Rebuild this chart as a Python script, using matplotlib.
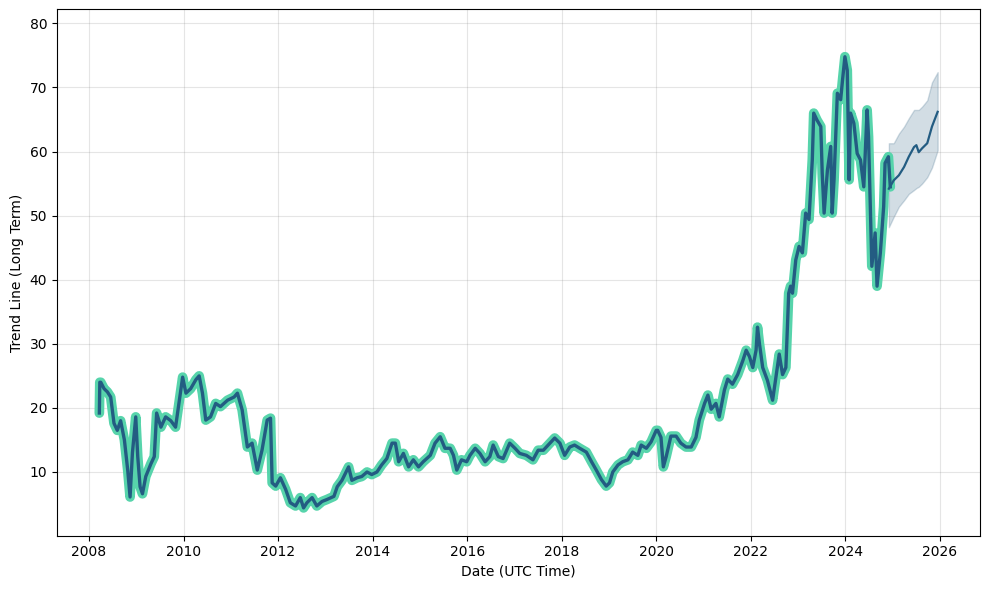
import datetime
import matplotlib
matplotlib.use("Agg")
from matplotlib import pyplot as plt

hist_years = [
    2008.22, 2008.23, 2008.25, 2008.32, 2008.39, 2008.46, 2008.53, 2008.60, 2008.67, 2008.75,
    2008.82, 2008.87, 2008.92, 2008.99, 2009.03, 2009.08, 2009.13, 2009.20, 2009.31, 2009.38,
    2009.43, 2009.52, 2009.62, 2009.73, 2009.83, 2009.91, 2009.98, 2010.05, 2010.15, 2010.26,
    2010.33, 2010.40, 2010.47, 2010.57, 2010.68, 2010.78, 2010.93, 2011.07, 2011.14, 2011.24,
    2011.35, 2011.45, 2011.56, 2011.66, 2011.77, 2011.84, 2011.875, 2011.95, 2012.05, 2012.16,
    2012.26, 2012.37, 2012.47, 2012.54, 2012.61, 2012.72, 2012.82, 2012.93, 2013.03, 2013.18,
    2013.25, 2013.35, 2013.49, 2013.56, 2013.67, 2013.77, 2013.88, 2013.98, 2014.09, 2014.19,
    2014.30, 2014.41, 2014.48, 2014.55, 2014.65, 2014.76, 2014.86, 2014.97, 2015.07, 2015.22,
    2015.32, 2015.43, 2015.53, 2015.64, 2015.71, 2015.78, 2015.88, 2015.99, 2016.06, 2016.17,
    2016.27, 2016.38, 2016.48, 2016.55, 2016.66, 2016.76, 2016.90, 2017.01, 2017.11, 2017.25,
    2017.39, 2017.50, 2017.61, 2017.71, 2017.85, 2017.96, 2018.06, 2018.17, 2018.27, 2018.38,
    2018.52, 2018.63, 2018.73, 2018.84, 2018.94, 2019.01, 2019.08, 2019.19, 2019.29, 2019.40,
    2019.50, 2019.61, 2019.68, 2019.79, 2019.89, 2020.00, 2020.03, 2020.10, 2020.15, 2020.21,
    2020.31, 2020.42, 2020.52, 2020.63, 2020.74, 2020.84, 2020.91, 2021.02, 2021.09, 2021.16,
    2021.26, 2021.33, 2021.44, 2021.51, 2021.61, 2021.72, 2021.83, 2021.90, 2021.97, 2022.04,
    2022.11, 2022.14, 2022.18, 2022.25, 2022.35, 2022.46, 2022.53, 2022.60, 2022.67, 2022.74,
    2022.80, 2022.84, 2022.88, 2022.95, 2023.02, 2023.09, 2023.16, 2023.23, 2023.30, 2023.33,
    2023.40, 2023.48, 2023.51, 2023.55, 2023.62, 2023.69, 2023.72, 2023.76, 2023.83, 2023.90,
    2023.94, 2023.99, 2024.04, 2024.08, 2024.11, 2024.18, 2024.25, 2024.32, 2024.39, 2024.46,
    2024.49, 2024.53, 2024.56, 2024.63, 2024.67, 2024.74, 2024.81, 2024.84, 2024.91, 2024.95,
]
hist_values = [
    19.2, 24.0, 24.0, 23.0, 22.5, 21.7, 17.6, 16.5, 18.0, 15.0,
    10.3, 6.1, 13.0, 18.6, 12.4, 7.7, 6.6, 9.3, 11.3, 12.4,
    19.2, 17.0, 18.6, 18.0, 17.0, 21.2, 24.8, 22.3, 23.0, 24.4,
    25.0, 22.3, 18.1, 18.6, 20.7, 20.2, 21.2, 21.7, 22.3, 19.7,
    13.9, 14.5, 10.3, 13.4, 18.1, 18.4, 8.3, 7.8, 9.1, 7.3,
    5.2, 4.7, 6.0, 4.4, 5.2, 6.0, 4.7, 5.4, 5.7, 6.2,
    7.7, 8.7, 10.8, 8.7, 9.1, 9.3, 10.0, 9.6, 10.0, 11.1,
    12.1, 14.5, 14.5, 11.6, 12.9, 10.8, 11.9, 10.8, 11.6, 12.6,
    14.5, 15.5, 13.7, 13.7, 12.6, 10.3, 11.9, 11.6, 12.6, 13.7,
    12.9, 11.6, 12.4, 14.2, 12.4, 12.1, 14.5, 13.7, 12.9, 12.6,
    11.9, 13.4, 13.4, 14.2, 15.3, 14.5, 12.6, 13.9, 14.2, 13.7,
    13.1, 11.6, 10.3, 8.8, 7.8, 8.3, 10.0, 11.1, 11.6, 11.9,
    13.1, 12.6, 14.2, 13.7, 14.7, 16.5, 16.5, 15.4, 10.8, 12.4,
    15.6, 15.6, 14.5, 13.9, 13.9, 15.4, 18.1, 20.7, 22.0, 19.8,
    20.7, 18.6, 22.8, 24.5, 23.7, 25.2, 27.4, 29.0, 28.0, 26.3,
    29.0, 32.6, 30.1, 26.3, 24.3, 21.2, 24.8, 28.4, 25.2, 26.3,
    37.9, 39.0, 37.9, 43.1, 45.2, 44.2, 50.4, 49.4, 58.7, 66.0,
    64.9, 63.9, 56.6, 50.4, 57.1, 60.8, 50.4, 55.6, 69.1, 68.1,
    71.2, 74.8, 72.7, 55.6, 66.0, 64.4, 59.7, 58.7, 54.5, 66.5,
    62.3, 50.4, 42.1, 47.3, 39.0, 44.2, 51.4, 58.2, 59.2, 54.5,
]

# forecast trend with its uncertainty band
fc_years = [2024.92, 2025.02, 2025.13, 2025.24, 2025.34, 2025.45, 2025.50, 2025.55,
            2025.62, 2025.73, 2025.83, 2025.95]
fc_values = [54.2, 55.5, 56.3, 57.6, 59.2, 60.7, 61.0, 59.9, 60.5, 61.3, 63.9, 66.2]
fc_lower = [48.2, 49.8, 51.4, 52.4, 53.4, 54.0, 54.3, 54.5, 55.0, 56.0, 57.5, 60.2]
fc_upper = [61.3, 61.3, 62.8, 63.9, 65.2, 66.5, 66.5, 66.5, 67.0, 68.0, 70.8, 72.4]


def to_date(y):
    year = int(y)
    start = datetime.datetime(year, 1, 1)
    return start + datetime.timedelta(days=(y - year) * 365.25)


hist_dates = [to_date(y) for y in hist_years]
fc_dates = [to_date(y) for y in fc_years]

fig, ax = plt.subplots(figsize=(9.89, 5.89), dpi=100)
fig.subplots_adjust(left=0.0576, right=0.9914, top=0.9842, bottom=0.0905)

ax.fill_between(fc_dates, fc_lower, fc_upper, color='#22577a', alpha=0.2, linewidth=1)
ax.plot(hist_dates, hist_values, color='#57d4ab', linewidth=7, solid_capstyle='round')
ax.plot(hist_dates, hist_values, color='#235c82', linewidth=2.4)
ax.plot(fc_dates, fc_values, color='#235c82', linewidth=1.6)

ax.set_xticks([to_date(y) for y in range(2008, 2027, 2)])
ax.set_xticklabels([str(y) for y in range(2008, 2027, 2)])
ax.set_xlim(to_date(2007.323), to_date(2026.857))
ax.set_ylim(0.06, 82.2)
ax.grid(True, color='gray', alpha=0.2)
ax.set_xlabel('Date (UTC Time)')
ax.set_ylabel('Trend Line (Long Term)')

fig.savefig('out.png')
